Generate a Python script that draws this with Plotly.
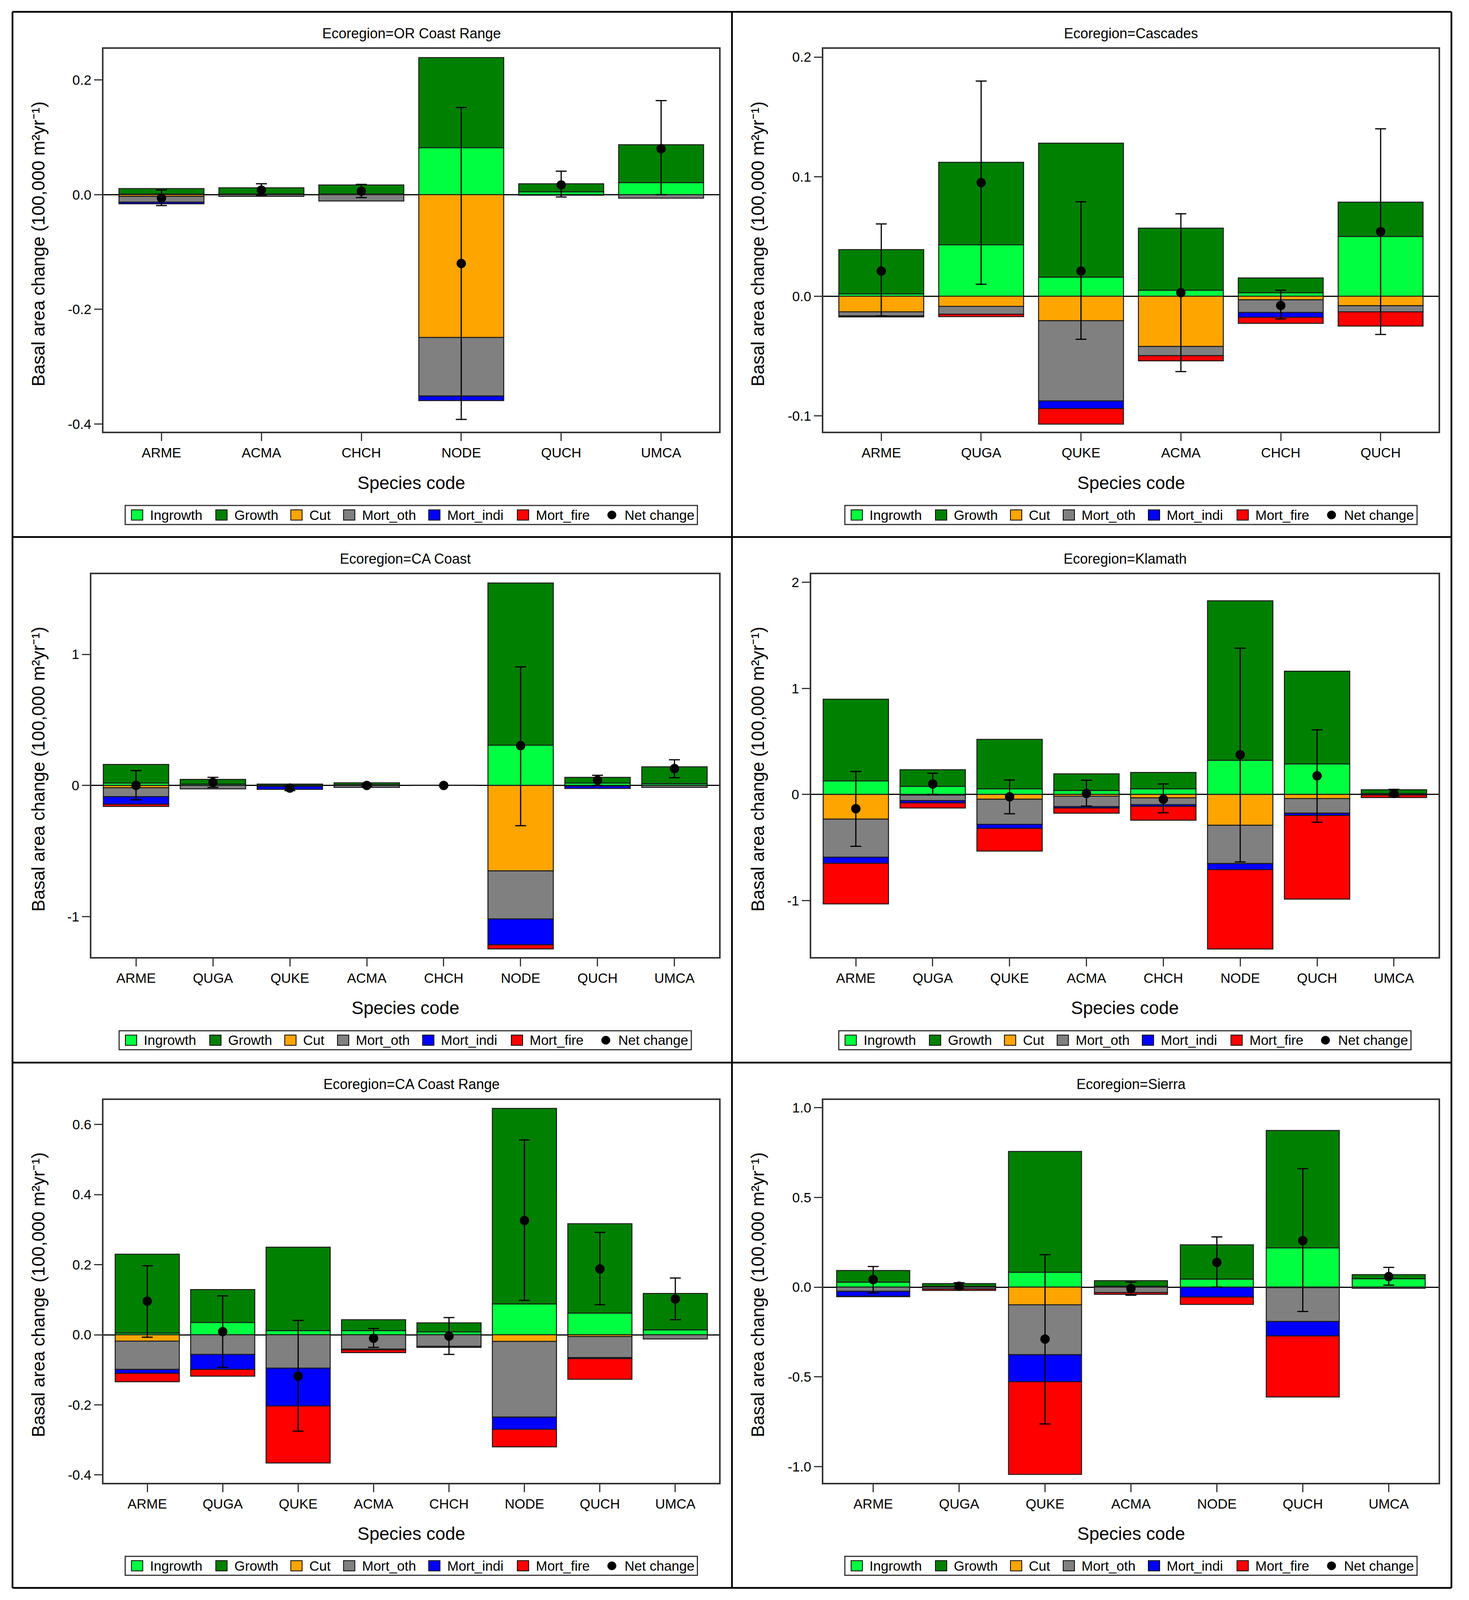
import plotly.graph_objects as go
from plotly.subplots import make_subplots

# component names and colours (legend order)
components = ["Ingrowth", "Growth", "Cut", "Mort_oth", "Mort_indi", "Mort_fire"]
comp_colors = ["#00FF40", "#008000", "#FFA500", "#808080", "#0000FF", "#FF0000"]

# ---- Ecoregion = OR Coast Range ----
or_species = ["ARME", "ACMA", "CHCH", "NODE", "QUCH", "UMCA"]
or_ingrowth = [0.001, 0.001, 0.001, 0.082, 0.005, 0.021]
or_growth = [0.0096, 0.011, 0.016, 0.157, 0.014, 0.066]
or_cut = [-0.003, 0, 0, -0.249, 0, 0]
or_mort_oth = [-0.010, -0.003, -0.011, -0.102, -0.001, -0.006]
or_mort_indi = [-0.003, 0, 0, -0.008, 0, 0]
or_mort_fire = [0, 0, 0, 0, 0, 0]
or_net = [-0.006, 0.008, 0.006, -0.120, 0.017, 0.080]
or_hi = [0.008, 0.019, 0.018, 0.152, 0.041, 0.164]
or_lo = [-0.019, -0.001, -0.005, -0.392, -0.004, 0.000]

# ---- Ecoregion = Cascades ----
cas_species = ["ARME", "QUGA", "QUKE", "ACMA", "CHCH", "QUCH"]
cas_ingrowth = [0.002, 0.043, 0.016, 0.005, 0.003, 0.050]
cas_growth = [0.037, 0.069, 0.112, 0.052, 0.0123, 0.0287]
cas_cut = [-0.013, -0.0085, -0.0205, -0.042, -0.003, -0.008]
cas_mort_oth = [-0.0035, -0.0065, -0.067, -0.0077, -0.0106, -0.005]
cas_mort_indi = [-0.0008, 0, -0.0065, 0, -0.004, 0]
cas_mort_fire = [0, -0.002, -0.013, -0.0043, -0.0051, -0.012]
cas_net = [0.021, 0.095, 0.021, 0.003, -0.0077, 0.054]
cas_hi = [0.0605, 0.180, 0.079, 0.069, 0.005, 0.140]
cas_lo = [-0.0165, 0.010, -0.036, -0.063, -0.019, -0.032]

# ---- Ecoregion = CA Coast ----
cac_species = ["ARME", "QUGA", "QUKE", "ACMA", "CHCH", "NODE", "QUCH", "UMCA"]
cac_ingrowth = [0.018, 0.010, 0, 0.004, 0, 0.307, 0.018, 0.013]
cac_growth = [0.142, 0.036, 0.010, 0.016, 0.002, 1.237, 0.044, 0.129]
cac_cut = [-0.018, 0, 0, 0, 0, -0.652, 0, 0]
cac_mort_oth = [-0.067, -0.026, -0.006, -0.015, 0, -0.366, -0.005, -0.015]
cac_mort_indi = [-0.059, 0, -0.024, 0, 0, -0.198, -0.018, 0]
cac_mort_fire = [-0.016, 0, 0, 0, 0, -0.031, 0, 0]
cac_net = [0.0, 0.023, -0.020, 0.0, 0.0, 0.304, 0.039, 0.129]
cac_hi = [0.113, 0.062, -0.005, 0.010, 0.0, 0.905, 0.077, 0.196]
cac_lo = [-0.110, -0.015, -0.040, -0.010, 0.0, -0.307, 0.0, 0.059]

# ---- Ecoregion = Klamath ----
kla_species = ["ARME", "QUGA", "QUKE", "ACMA", "CHCH", "NODE", "QUCH", "UMCA"]
kla_ingrowth = [0.128, 0.077, 0.054, 0.038, 0.054, 0.323, 0.288, 0.008]
kla_growth = [0.770, 0.156, 0.466, 0.157, 0.154, 1.504, 0.875, 0.037]
kla_cut = [-0.233, -0.006, -0.045, -0.016, -0.032, -0.291, -0.038, 0]
kla_mort_oth = [-0.358, -0.052, -0.236, -0.099, -0.064, -0.361, -0.138, -0.005]
kla_mort_indi = [-0.058, -0.022, -0.039, -0.013, -0.016, -0.057, -0.022, 0]
kla_mort_fire = [-0.383, -0.048, -0.214, -0.048, -0.131, -0.748, -0.789, -0.024]
kla_net = [-0.134, 0.099, -0.022, 0.010, -0.045, 0.374, 0.176, 0.010]
kla_hi = [0.217, 0.200, 0.137, 0.134, 0.099, 1.380, 0.610, 0.048]
kla_lo = [-0.489, 0.000, -0.182, -0.109, -0.173, -0.636, -0.262, -0.016]

# ---- Ecoregion = CA Coast Range ----
ccr_species = ["ARME", "QUGA", "QUKE", "ACMA", "CHCH", "NODE", "QUCH", "UMCA"]
ccr_ingrowth = [0.005, 0.035, 0.012, 0.012, 0.008, 0.088, 0.062, 0.014]
ccr_growth = [0.225, 0.094, 0.238, 0.031, 0.026, 0.558, 0.255, 0.104]
ccr_cut = [-0.018, 0, 0, 0, 0, -0.019, -0.005, 0]
ccr_mort_oth = [-0.081, -0.056, -0.095, -0.041, -0.033, -0.216, -0.060, -0.012]
ccr_mort_indi = [-0.011, -0.043, -0.108, -0.002, -0.003, -0.035, -0.003, 0]
ccr_mort_fire = [-0.024, -0.019, -0.163, -0.008, 0, -0.050, -0.059, 0]
ccr_net = [0.096, 0.009, -0.118, -0.010, -0.004, 0.326, 0.188, 0.102]
ccr_hi = [0.197, 0.111, 0.041, 0.018, 0.049, 0.556, 0.292, 0.162]
ccr_lo = [-0.007, -0.093, -0.275, -0.036, -0.056, 0.098, 0.086, 0.043]

# ---- Ecoregion = Sierra ----
sie_species = ["ARME", "QUGA", "QUKE", "ACMA", "NODE", "QUCH", "UMCA"]
sie_ingrowth = [0.028, 0.004, 0.083, 0.005, 0.045, 0.219, 0.047]
sie_growth = [0.065, 0.016, 0.673, 0.031, 0.191, 0.654, 0.023]
sie_cut = [0, 0, -0.098, 0, 0, -0.003, 0]
sie_mort_oth = [-0.023, -0.010, -0.278, -0.030, 0, -0.188, -0.006]
sie_mort_indi = [-0.028, 0, -0.151, 0, -0.055, -0.081, 0]
sie_mort_fire = [-0.002, -0.008, -0.516, -0.010, -0.041, -0.340, 0]
sie_net = [0.042, 0.005, -0.289, -0.008, 0.138, 0.259, 0.059]
sie_hi = [0.115, 0.025, 0.181, 0.028, 0.280, 0.660, 0.110]
sie_lo = [-0.032, -0.010, -0.762, -0.045, 0.000, -0.136, 0.011]

# y tick labels per panel
or_ticks = [-0.4, -0.2, 0.0, 0.2]
or_ticktext = ["-0.4", "-0.2", "0.0", "0.2"]
cas_ticks = [-0.1, 0.0, 0.1, 0.2]
cas_ticktext = ["-0.1", "0.0", "0.1", "0.2"]
cac_ticks = [-1, 0, 1]
cac_ticktext = ["-1", "0", "1"]
kla_ticks = [-1, 0, 1, 2]
kla_ticktext = ["-1", "0", "1", "2"]
ccr_ticks = [-0.4, -0.2, 0.0, 0.2, 0.4, 0.6]
ccr_ticktext = ["-0.4", "-0.2", "0.0", "0.2", "0.4", "0.6"]
sie_ticks = [-1.0, -0.5, 0.0, 0.5, 1.0]
sie_ticktext = ["-1.0", "-0.5", "0.0", "0.5", "1.0"]

panels = [
    ("OR Coast Range", or_species,
     [or_ingrowth, or_growth, or_cut, or_mort_oth, or_mort_indi, or_mort_fire],
     or_net, or_hi, or_lo, or_ticks, or_ticktext, [-0.4135, 0.254]),
    ("Cascades", cas_species,
     [cas_ingrowth, cas_growth, cas_cut, cas_mort_oth, cas_mort_indi, cas_mort_fire],
     cas_net, cas_hi, cas_lo, cas_ticks, cas_ticktext, [-0.1134, 0.2068]),
    ("CA Coast", cac_species,
     [cac_ingrowth, cac_growth, cac_cut, cac_mort_oth, cac_mort_indi, cac_mort_fire],
     cac_net, cac_hi, cac_lo, cac_ticks, cac_ticktext, [-1.309, 1.611]),
    ("Klamath", kla_species,
     [kla_ingrowth, kla_growth, kla_cut, kla_mort_oth, kla_mort_indi, kla_mort_fire],
     kla_net, kla_hi, kla_lo, kla_ticks, kla_ticktext, [-1.533, 2.077]),
    ("CA Coast Range", ccr_species,
     [ccr_ingrowth, ccr_growth, ccr_cut, ccr_mort_oth, ccr_mort_indi, ccr_mort_fire],
     ccr_net, ccr_hi, ccr_lo, ccr_ticks, ccr_ticktext, [-0.422, 0.6705]),
    ("Sierra", sie_species,
     [sie_ingrowth, sie_growth, sie_cut, sie_mort_oth, sie_mort_indi, sie_mort_fire],
     sie_net, sie_hi, sie_lo, sie_ticks, sie_ticktext, [-1.089, 1.0435]),
]

W, H = 3761, 4213
FONT = "Liberation Sans, Arial, sans-serif"
FRAME = "#333333"

# pixel layout of the 3x2 grid of boxed panels (reference pixels)
cell_x = [32, 1874, 3716]
cell_y = [31, 1414, 2798, 4181]
plot_left = [233, 234, 202, 203, 233, 234]

def fx(px):
    return px / W

def fy(py):
    return 1 - py / H

fig = make_subplots(rows=3, cols=2)
shapes = []
annotations = []

for i, (name, species, comps, net, hi, lo, tv, tt, yr) in enumerate(panels):
    r, c = i // 2, i % 2
    x0 = cell_x[c] + plot_left[i]
    x1 = cell_x[c] + 1809
    y0 = cell_y[r] + 98
    y1 = cell_y[r] + 1106

    for comp, col, vals in zip(components, comp_colors, comps):
        fig.add_trace(go.Bar(
            x=species, y=[v if v != 0 else None for v in vals], name=comp,
            marker=dict(color=col, line=dict(color="#1a1a1a", width=2.5)),
            showlegend=False,
        ), row=r + 1, col=c + 1)

    fig.add_trace(go.Scatter(
        x=species, y=net, mode="markers", name="Net change",
        marker=dict(color="black", size=24),
        error_y=dict(type="data", symmetric=False,
                     array=[h - n for h, n in zip(hi, net)],
                     arrayminus=[n - l for n, l in zip(net, lo)],
                     color="black", thickness=3, width=14),
        showlegend=False,
    ), row=r + 1, col=c + 1)

    fig.update_xaxes(
        domain=[fx(x0), fx(x1)], type="category",
        range=[-0.58, len(species) - 0.42],
        showline=True, mirror=True, linecolor=FRAME, linewidth=4,
        ticks="outside", ticklen=20, tickwidth=3, tickcolor=FRAME,
        tickfont=dict(size=35, color="black", family=FONT),
        showgrid=False, zeroline=False,
        row=r + 1, col=c + 1)
    fig.update_yaxes(
        domain=[fy(y1), fy(y0)], range=yr,
        tickvals=tv, ticktext=tt,
        showline=True, mirror=True, linecolor=FRAME, linewidth=4,
        ticks="outside", ticklen=20, tickwidth=3, tickcolor=FRAME,
        tickfont=dict(size=35, color="black", family=FONT),
        showgrid=False, zeroline=True, zerolinecolor="black", zerolinewidth=2.5,
        row=r + 1, col=c + 1)

    xc = (x0 + x1) / 2
    # panel title, axis titles
    annotations.append(dict(
        text="Ecoregion=" + name, x=fx(xc), y=fy(cell_y[r] + 57),
        xref="paper", yref="paper", showarrow=False,
        xanchor="center", yanchor="middle",
        font=dict(size=36, color="black", family=FONT)))
    annotations.append(dict(
        text="Species code", x=fx(xc), y=fy(cell_y[r] + 1240),
        xref="paper", yref="paper", showarrow=False,
        xanchor="center", yanchor="middle",
        font=dict(size=46, color="black", family=FONT)))
    annotations.append(dict(
        text="Basal area change (100,000 m²yr⁻¹)",
        x=fx(cell_x[c] + 66), y=fy((y0 + y1) / 2 + 10),
        xref="paper", yref="paper", showarrow=False, textangle=-90,
        xanchor="center", yanchor="middle",
        font=dict(size=46, color="black", family=FONT)))

    # legend box drawn by hand so the keys are large enough
    lw = 1465
    lx = xc - lw / 2
    ly0 = cell_y[r] + 1300
    ly1 = ly0 + 50
    lym = (ly0 + ly1) / 2
    shapes.append(dict(type="rect", xref="paper", yref="paper",
                       x0=fx(lx), x1=fx(lx + lw), y0=fy(ly1), y1=fy(ly0),
                       line=dict(color=FRAME, width=3), fillcolor="white"))
    key_off = [16, 232, 424, 559, 777, 1004, 1231]
    labels = components + ["Net change"]
    for k, (off, lab) in enumerate(zip(key_off, labels)):
        kx = lx + off
        if k < len(components):
            shapes.append(dict(type="rect", xref="paper", yref="paper",
                               x0=fx(kx), x1=fx(kx + 29),
                               y0=fy(lym + 13.5), y1=fy(lym - 13.5),
                               line=dict(color="black", width=2),
                               fillcolor=comp_colors[k]))
        else:
            shapes.append(dict(type="circle", xref="paper", yref="paper",
                               x0=fx(kx + 4), x1=fx(kx + 26),
                               y0=fy(lym + 11), y1=fy(lym - 11),
                               line=dict(color="black", width=1),
                               fillcolor="black"))
        annotations.append(dict(
            text=lab, x=fx(kx + 45), y=fy(lym),
            xref="paper", yref="paper", showarrow=False,
            xanchor="left", yanchor="middle",
            font=dict(size=35, color="black", family=FONT)))

# outer frame lines between panels
for xv in cell_x:
    shapes.append(dict(type="line", xref="paper", yref="paper",
                       x0=fx(xv), x1=fx(xv), y0=fy(cell_y[0]), y1=fy(cell_y[-1]),
                       line=dict(color="black", width=4.5)))
for yv in cell_y:
    shapes.append(dict(type="line", xref="paper", yref="paper",
                       x0=fx(cell_x[0]), x1=fx(cell_x[-1]), y0=fy(yv), y1=fy(yv),
                       line=dict(color="black", width=4.5)))

fig.update_layout(
    width=W, height=H,
    margin=dict(l=0, r=0, t=0, b=0),
    barmode="relative", bargap=0.15,
    paper_bgcolor="white", plot_bgcolor="white",
    font=dict(family=FONT, color="black"),
    shapes=shapes, annotations=annotations,
    showlegend=False,
)

# fit the figure to the visible browser area so nothing is clipped
fit_js = """
document.documentElement.style.margin = '0';
document.body.style.margin = '0';
document.body.style.overflow = 'hidden';
var gd = document.getElementById('{plot_id}');
Plotly.relayout(gd, {width: window.innerWidth, height: window.innerHeight});
"""

fig.write_html("out.html", config={"displayModeBar": False}, post_script=fit_js)
